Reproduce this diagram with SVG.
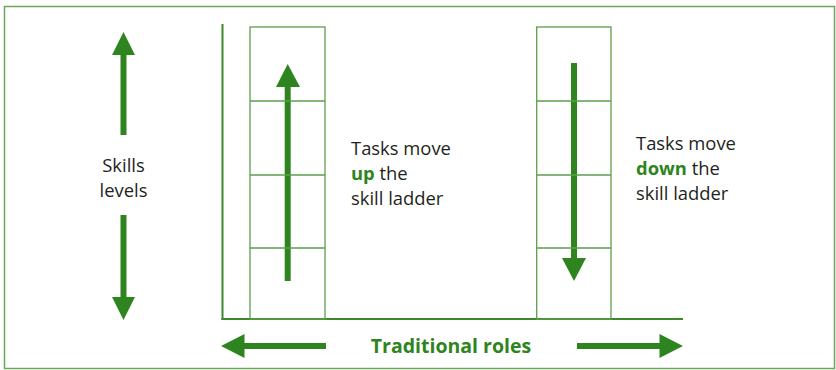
<svg xmlns="http://www.w3.org/2000/svg" width="836" height="370" viewBox="0 0 836 370">
<style>
.frame{fill:none;stroke:#6aa85c;stroke-width:1.5}
.lad{fill:none;stroke:#5c9e4c;stroke-width:1.3}
.axis{fill:none;stroke:#3a8a2c;stroke-width:2}
.shaft{stroke:#2e8520;stroke-width:6;fill:none}
.head{fill:#2e8520}
.t{font-family:"Open Sans","Liberation Sans",sans-serif;font-size:18.4px;fill:#231f20}
.g{fill:#2e8520;font-weight:bold}
.big{font-size:19.5px}
</style>
<rect class="frame" x="4.5" y="6.5" width="830" height="362"/>
<g id="connectors">
<line class="axis" x1="222.5" y1="24" x2="222.5" y2="320"/>
<line class="axis" x1="221.5" y1="319" x2="683" y2="319"/>
<line class="shaft" x1="123.5" y1="54" x2="123.5" y2="135"/>
<polygon class="head" points="123.5,32 112,55 135,55"/>
<line class="shaft" x1="123.5" y1="215" x2="123.5" y2="298"/>
<polygon class="head" points="123.5,320 112,297 135,297"/>
<line class="shaft" x1="287.7" y1="85" x2="287.7" y2="281"/>
<polygon class="head" points="287.7,64 276,87 300,87"/>
<line class="shaft" x1="574" y1="63" x2="574" y2="260"/>
<polygon class="head" points="574,281 562,258 586,258"/>
<line class="shaft" x1="243" y1="346" x2="326" y2="346"/>
<polygon class="head" points="221,346 244.5,334 244.5,358"/>
<line class="shaft" x1="577" y1="346" x2="661" y2="346"/>
<polygon class="head" points="683,346 659.5,334 659.5,358"/>
</g>
<g id="ladder-up">
<rect class="lad" x="250" y="27" width="75" height="292"/>
<line class="lad" x1="250" y1="101" x2="325" y2="101"/>
<line class="lad" x1="250" y1="175" x2="325" y2="175"/>
<line class="lad" x1="250" y1="248" x2="325" y2="248"/>
</g>
<g id="ladder-down">
<rect class="lad" x="536.7" y="27" width="74.3" height="292"/>
<line class="lad" x1="536.7" y1="101" x2="611" y2="101"/>
<line class="lad" x1="536.7" y1="175" x2="611" y2="175"/>
<line class="lad" x1="536.7" y1="248" x2="611" y2="248"/>
</g>
<g id="skills-label">
<text class="t" x="123.5" y="171.5" text-anchor="middle">Skills</text>
<text class="t" x="123.5" y="196.5" text-anchor="middle">levels</text>
</g>
<g id="up-label">
<text class="t" x="351" y="155">Tasks move</text>
<text class="t" x="351" y="180"><tspan class="g">up</tspan> the</text>
<text class="t" x="351" y="205">skill ladder</text>
</g>
<g id="down-label">
<text class="t" x="636" y="150">Tasks move</text>
<text class="t" x="636" y="175"><tspan class="g">down</tspan> the</text>
<text class="t" x="636" y="200">skill ladder</text>
</g>
<g id="roles-label">
<text class="t g big" x="451" y="353" text-anchor="middle">Traditional roles</text>
</g>
</svg>
